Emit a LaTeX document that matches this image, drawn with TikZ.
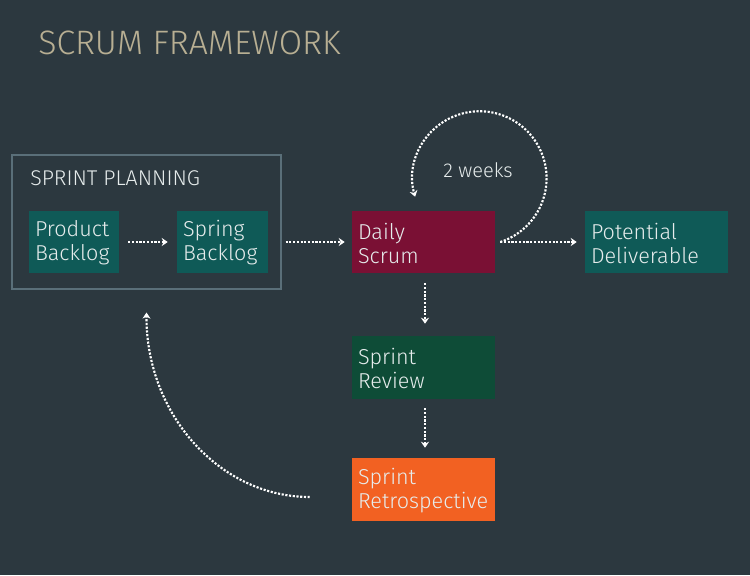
\documentclass[tikz,border=0pt]{standalone}
\usepackage{fontspec}
\setmainfont{Fira Sans}[UprightFont=* Light]
\usetikzlibrary{calc,arrows.meta}
\definecolor{bg}{HTML}{2C383F}
\definecolor{teal}{HTML}{0F5A57}
\definecolor{maroon}{HTML}{7A1034}
\definecolor{dkgreen}{HTML}{0E4C37}
\definecolor{orng}{HTML}{F26122}
\definecolor{framec}{HTML}{5A6F79}
\definecolor{titlec}{HTML}{B8AF93}
\definecolor{txt}{HTML}{E6ECEC}
\tikzset{
  box/.style={draw=none, rectangle, inner sep=0pt},
  lbl/.style={inner sep=0pt, align=left, text=txt, anchor=west,
    font=\fontsize{16.2}{18}\selectfont},
  flow/.style={draw=white, line width=1.6pt, dash pattern=on 1.6pt off 1.2pt,
    -{Stealth[length=4.5pt,width=6pt]}},
}
\begin{document}
\begin{tikzpicture}[x=0.75pt,y=-0.75pt]
\useasboundingbox[fill=bg] (0,0) rectangle (750,575);

\node[anchor=base west, inner sep=0pt, text=titlec, font=\fontsize{25.4}{28}\selectfont] (title) at (38,54) {SCRUM FRAMEWORK};

\node[box, draw=framec, line width=0.9pt, minimum width=201.75pt, minimum height=100.5pt] (frame) at (146.5,222) {};
\node[anchor=base west, inner sep=0pt, text=txt, font=\fontsize{16}{18}\selectfont] (plan) at (30,185) {SPRINT PLANNING};

\node[box, fill=teal, minimum width=67.5pt, minimum height=46.5pt] (prod) at (74,242) {};
\node[box, fill=teal, minimum width=68.25pt, minimum height=46.5pt] (spring) at (222.5,242) {};
\node[box, fill=maroon, minimum width=107.25pt, minimum height=46.5pt] (daily) at (423.5,242) {};
\node[box, fill=teal, minimum width=107.25pt, minimum height=46.5pt] (pot) at (656.5,242) {};
\node[box, fill=dkgreen, minimum width=107.25pt, minimum height=47.25pt] (review) at (423.5,367.5) {};
\node[box, fill=orng, minimum width=107.25pt, minimum height=47.25pt] (retro) at (423.5,489.5) {};

\node[lbl] (prodT) at ($(prod.west)+(6,1)$) {Product\\Backlog};
\node[lbl] (springT) at ($(spring.west)+(6,1)$) {Spring\\Backlog};
\node[lbl] (dailyT) at ($(daily.west)+(6,1)$) {Daily\\Scrum};
\node[lbl] (potT) at ($(pot.west)+(6,1)$) {Potential\\Deliverable};
\node[lbl] (reviewT) at ($(review.west)+(6,1)$) {Sprint\\Review};
\node[lbl] (retroT) at ($(retro.west)+(6,1)$) {Sprint\\Retrospective};

\node[inner sep=0pt, text=txt, font=\fontsize{15}{16}\selectfont] (weeks) at (478,170) {2 weeks};

\draw[flow] ($(prod.east)+(9,0)$) -- ($(spring.west)+(-9,0)$);
\draw[flow] ($(frame.east)+(4,20)$) -- ($(daily.west)+(-7,0)$);
\draw[flow] ($(daily.east)+(5,0)$) -- ($(pot.west)+(-8,0)$);
\draw[flow] ($(daily.south)+(1.5,10)$) -- ($(review.north)+(1.5,-12)$);
\draw[flow] ($(review.south)+(1.5,9)$) -- ($(retro.north)+(1.5,-10)$);
\draw[flow] ($(daily.east)+(5,0)$) arc[start angle=72, end angle=-196, radius=67];
\draw[flow] ($(retro.west)+(-42,7.5)$) .. controls (219.5,497) and (146,414) .. ($(frame.south)+(0,23)$);
\end{tikzpicture}
\end{document}
